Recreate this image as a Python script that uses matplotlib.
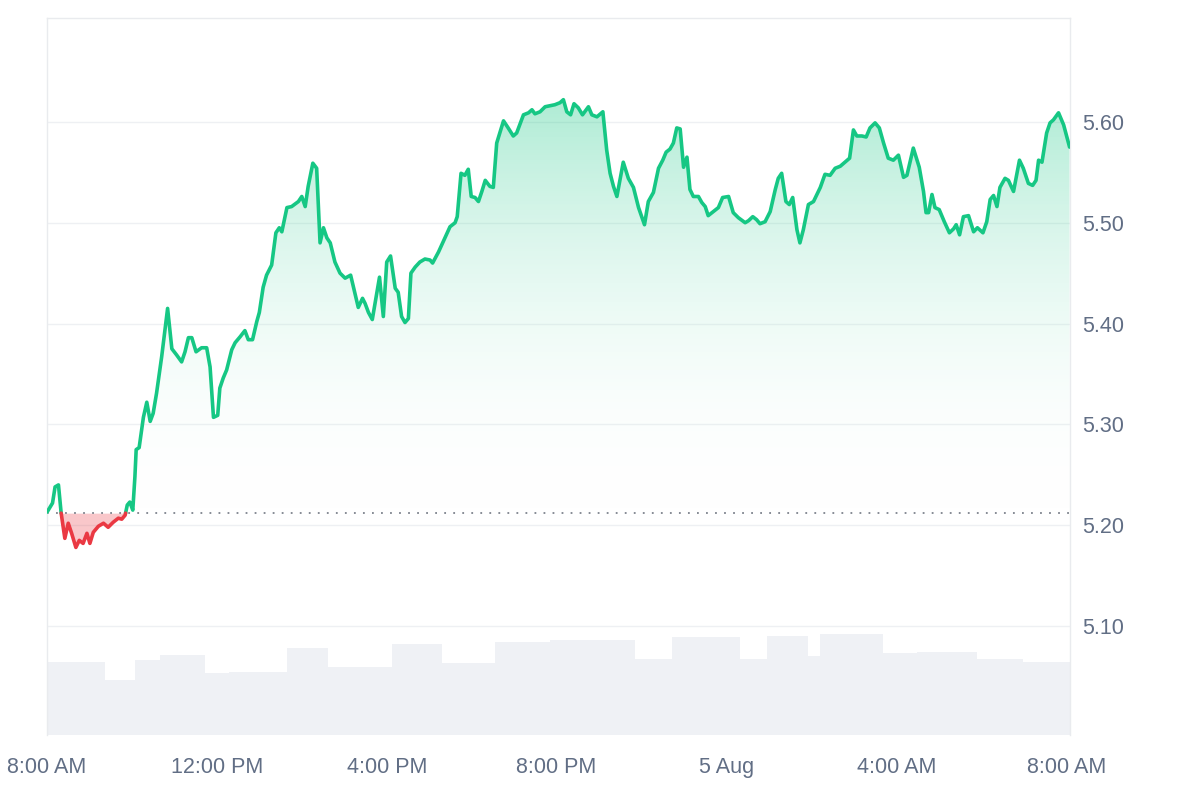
import numpy as np
import matplotlib
matplotlib.use("Agg")
import matplotlib.pyplot as plt
from matplotlib.patches import Polygon
from matplotlib.colors import LinearSegmentedColormap

plt.rcParams['font.family'] = ['Liberation Sans', 'DejaVu Sans']

# ---- data (hours since 8:00 AM, price in USD) ----
hours = [0.00, 0.03, 0.13, 0.19, 0.27, 0.33, 0.42, 0.50, 0.58, 0.68, 0.76, 0.85, 0.94, 1.01,
         1.09, 1.21, 1.33, 1.44, 1.56, 1.68, 1.76, 1.84, 1.89, 1.95, 2.02, 2.07, 2.10, 2.17,
         2.27, 2.35, 2.43, 2.50, 2.58, 2.70, 2.84, 2.94, 3.05, 3.17, 3.25, 3.33, 3.41, 3.51,
         3.64, 3.76, 3.84, 3.92, 4.02, 4.07, 4.15, 4.23, 4.35, 4.43, 4.55, 4.66, 4.74, 4.84,
         4.94, 5.00, 5.09, 5.17, 5.29, 5.39, 5.47, 5.53, 5.65, 5.76, 5.92, 6.00, 6.08, 6.15,
         6.26, 6.35, 6.43, 6.51, 6.59, 6.67, 6.78, 6.90, 7.02, 7.15, 7.25, 7.33, 7.43, 7.49,
         7.57, 7.66, 7.83, 7.92, 8.00, 8.09, 8.20, 8.27, 8.35, 8.43, 8.51, 8.57, 8.67, 8.78,
         8.90, 9.02, 9.08, 9.22, 9.37, 9.49, 9.61, 9.66, 9.75, 9.84, 9.92, 9.99, 10.08, 10.16,
         10.24, 10.32, 10.43, 10.51, 10.59, 10.75, 10.86, 10.98, 11.06, 11.22, 11.34, 11.42,
         11.49, 11.61, 11.73, 11.85, 11.96, 12.08, 12.16, 12.24, 12.33, 12.41, 12.51, 12.61,
         12.75, 12.83, 12.95, 13.09, 13.18, 13.26, 13.34, 13.42, 13.57, 13.69, 13.81, 13.93,
         14.07, 14.16, 14.28, 14.40, 14.50, 14.58, 14.67, 14.75, 14.83, 14.91, 14.99, 15.07,
         15.14, 15.22, 15.34, 15.42, 15.50, 15.57, 15.69, 15.81, 15.91, 16.05, 16.16, 16.28,
         16.44, 16.52, 16.62, 16.71, 16.79, 16.91, 17.03, 17.15, 17.22, 17.30, 17.40, 17.48,
         17.56, 17.66, 17.73, 17.81, 17.93, 18.05, 18.21, 18.32, 18.44, 18.56, 18.68, 18.79,
         18.90, 18.99, 19.07, 19.19, 19.29, 19.38, 19.50, 19.60, 19.70, 19.81, 19.93, 20.05,
         20.17, 20.25, 20.40, 20.54, 20.64, 20.70, 20.76, 20.84, 20.91, 21.01, 21.13, 21.25,
         21.35, 21.41, 21.49, 21.58, 21.70, 21.82, 21.91, 22.04, 22.13, 22.21, 22.29, 22.37,
         22.44, 22.56, 22.64, 22.76, 22.90, 22.99, 23.11, 23.21, 23.29, 23.35, 23.43, 23.54,
         23.62, 23.70, 23.82, 23.94, 24.08]
prices = [5.213, 5.215, 5.222, 5.238, 5.240, 5.213, 5.187, 5.202, 5.192, 5.178, 5.185, 5.182,
          5.192, 5.182, 5.193, 5.199, 5.202, 5.198, 5.203, 5.207, 5.206, 5.210, 5.220, 5.223,
          5.215, 5.248, 5.275, 5.277, 5.307, 5.322, 5.303, 5.311, 5.331, 5.367, 5.415, 5.375,
          5.369, 5.362, 5.372, 5.386, 5.386, 5.372, 5.376, 5.376, 5.357, 5.307, 5.309, 5.336,
          5.346, 5.354, 5.374, 5.381, 5.387, 5.393, 5.384, 5.384, 5.402, 5.411, 5.436, 5.448,
          5.458, 5.490, 5.495, 5.491, 5.515, 5.516, 5.521, 5.526, 5.516, 5.536, 5.559, 5.554,
          5.480, 5.495, 5.485, 5.480, 5.461, 5.450, 5.445, 5.448, 5.430, 5.416, 5.425, 5.420,
          5.411, 5.404, 5.446, 5.407, 5.461, 5.467, 5.435, 5.431, 5.407, 5.401, 5.405, 5.450,
          5.456, 5.461, 5.464, 5.463, 5.460, 5.471, 5.485, 5.496, 5.500, 5.506, 5.549, 5.547,
          5.553, 5.526, 5.525, 5.521, 5.531, 5.542, 5.536, 5.535, 5.579, 5.601, 5.594, 5.586,
          5.589, 5.607, 5.609, 5.612, 5.608, 5.610, 5.615, 5.616, 5.617, 5.619, 5.622, 5.610,
          5.607, 5.618, 5.614, 5.607, 5.615, 5.607, 5.605, 5.610, 5.572, 5.549, 5.536, 5.526,
          5.560, 5.544, 5.535, 5.515, 5.498, 5.521, 5.530, 5.554, 5.562, 5.570, 5.573, 5.579,
          5.594, 5.593, 5.555, 5.565, 5.533, 5.526, 5.526, 5.520, 5.516, 5.507, 5.511, 5.515,
          5.525, 5.526, 5.510, 5.505, 5.500, 5.502, 5.506, 5.503, 5.499, 5.501, 5.511, 5.533,
          5.544, 5.549, 5.521, 5.518, 5.525, 5.493, 5.480, 5.493, 5.518, 5.521, 5.535, 5.548,
          5.547, 5.554, 5.556, 5.560, 5.564, 5.592, 5.586, 5.586, 5.585, 5.594, 5.599, 5.594,
          5.579, 5.564, 5.562, 5.567, 5.545, 5.547, 5.574, 5.555, 5.531, 5.510, 5.510, 5.528,
          5.515, 5.513, 5.501, 5.490, 5.494, 5.498, 5.488, 5.506, 5.507, 5.491, 5.495, 5.490,
          5.501, 5.523, 5.527, 5.516, 5.535, 5.544, 5.542, 5.531, 5.562, 5.554, 5.539, 5.537,
          5.542, 5.562, 5.560, 5.589, 5.599, 5.602, 5.609, 5.597, 5.575]
open_price = 5.212

# volume (arbitrary units) per interval, interval edges in hours
volume_edges = [0.00, 1.37, 2.07, 2.66, 3.72, 4.29, 5.65, 6.62, 8.13, 9.30, 10.55, 11.85,
                13.85, 14.72, 16.32, 16.96, 17.92, 18.20, 19.69, 20.49, 21.90, 22.99, 24.09]
volumes = [7.3, 5.5, 7.5, 8.0, 6.2, 6.3, 8.7, 6.8, 9.1, 7.2, 9.3, 9.5,
           7.6, 9.8, 7.6, 9.9, 7.9, 10.1, 8.2, 8.3, 7.6, 7.3]

xtick_pos = [0, 4, 8, 12, 16, 20, 24]
xtick_labels = ['8:00 AM', '12:00 PM', '4:00 PM', '8:00 PM', '5 Aug', '4:00 AM', '8:00 AM']
ytick_vals = [5.10, 5.20, 5.30, 5.40, 5.50, 5.60]

GREEN = '#16c784'
RED = '#ea3943'
TXT = '#616e85'
XMAX = 24.09
YMIN, YMAX = 4.992, 5.703

# ---- insert baseline crossings ----
t = np.array(hours, float)
p = np.array(prices, float)
tf, pf = [t[0]], [p[0]]
for i in range(len(t) - 1):
    a, b = p[i] - open_price, p[i + 1] - open_price
    if a * b < 0:
        frac = a / (a - b)
        tf.append(t[i] + frac * (t[i + 1] - t[i]))
        pf.append(open_price)
    tf.append(t[i + 1])
    pf.append(p[i + 1])
tf = np.array(tf)
pf = np.array(pf)

fig = plt.figure(figsize=(12, 8), dpi=100)
rect = [47 / 1200, 1 - 735 / 800, (1070 - 47) / 1200, (735 - 18) / 800]

# volume axes (behind)
axv = fig.add_axes(rect, zorder=0)
axv.stairs(volumes, volume_edges, fill=True, color='#eff1f5', linewidth=0)
axv.set_xlim(0, XMAX)
axv.set_ylim(0, 71.7)
axv.set_xticks([])
axv.set_yticks([])
for s in axv.spines.values():
    s.set_visible(False)

# price axes
ax = fig.add_axes(rect, zorder=1)
ax.patch.set_alpha(0)
ax.set_xlim(0, XMAX)
ax.set_ylim(YMIN, YMAX)

for yv in ytick_vals:
    ax.axhline(yv, color='#eef0f3', lw=1, zorder=0.5)

# green gradient fill above baseline
upper = np.maximum(pf, open_price)
verts = np.column_stack([np.concatenate([tf, tf[::-1]]),
                         np.concatenate([upper, np.full_like(tf, open_price)])])
clip = Polygon(verts, closed=True, facecolor='none', edgecolor='none', transform=ax.transData)
ax.add_patch(clip)
cmap = LinearSegmentedColormap.from_list('g', [(1, 1, 1, 0), (22/255, 199/255, 132/255, 0.36)])
grad = np.linspace(0, 1, 256).reshape(-1, 1)
im = ax.imshow(grad, extent=[0, XMAX, open_price, 5.63], origin='lower', aspect='auto',
               cmap=cmap, zorder=1, interpolation='bicubic')
im.set_clip_path(clip)

# red fill below baseline
ax.fill_between(tf, pf, open_price, where=pf <= open_price, color=RED, alpha=0.28,
                linewidth=0, zorder=1)

# baseline
ax.axhline(open_price, color='#7d828c', lw=1.3, ls=(0, (1, 4)), zorder=2)

# lines
g = np.where(pf >= open_price - 1e-9, pf, np.nan)
r = np.where(pf <= open_price + 1e-9, pf, np.nan)
ax.plot(tf, g, color=GREEN, lw=2.6, solid_joinstyle='round', solid_capstyle='round', zorder=3)
ax.plot(tf, r, color=RED, lw=2.6, solid_joinstyle='round', solid_capstyle='round', zorder=3)

ax.set_xticks(xtick_pos)
ax.set_xticklabels(xtick_labels)
ax.set_yticks(ytick_vals)
ax.set_yticklabels([f'{v:.2f}' for v in ytick_vals])
ax.yaxis.tick_right()
ax.tick_params(axis='both', length=0, labelsize=15.5, colors=TXT)
ax.tick_params(axis='x', pad=16)
ax.tick_params(axis='y', pad=9)
for side in ['left', 'right', 'top']:
    ax.spines[side].set_color('#e9ebee')
    ax.spines[side].set_linewidth(1)
ax.spines['bottom'].set_visible(False)

fig.savefig('out.png', dpi=100)
